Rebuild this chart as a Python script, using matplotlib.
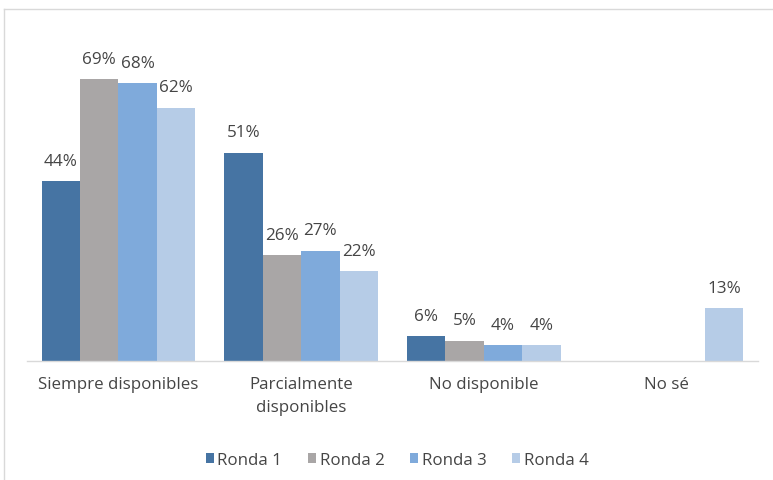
import numpy as np
import matplotlib
matplotlib.use("Agg")
import matplotlib.pyplot as plt
from matplotlib.lines import Line2D

plt.rcParams['font.family'] = ['Open Sans', 'DejaVu Sans']

categories = ["Siempre disponibles", "Parcialmente\ndisponibles", "No disponible", "No sé"]
series_names = ["Ronda 1", "Ronda 2", "Ronda 3", "Ronda 4"]
ronda1 = [44, 51, 6, np.nan]
ronda2 = [69, 26, 5, np.nan]
ronda3 = [68, 27, 4, np.nan]
ronda4 = [62, 22, 4, 13]
series = [ronda1, ronda2, ronda3, ronda4]
colors = ["#4674A3", "#A9A6A6", "#7FAADB", "#B6CCE7"]

W, H = 773, 481
fig = plt.figure(figsize=(W / 100, H / 100), dpi=100)
ax = fig.add_axes([27 / W, 119 / H, 731 / W, (362 - 35) / H])

x = np.arange(len(categories))
bw = 0.21
for i, (vals, name, c) in enumerate(zip(series, series_names, colors)):
    pos = x + (i - 1.5) * bw
    ax.bar(pos, vals, width=bw, color=c, label=name)
    for p, v in zip(pos, vals):
        if not np.isnan(v):
            ax.annotate(f"{v:.0f}%", (p, v), xytext=(0, 14.5), textcoords="offset points",
                        ha="center", va="center", fontsize=12.3, color="#454545")

ax.set_xlim(-0.5, len(categories) - 0.5)
ax.set_ylim(0, 80)
ax.set_yticks([])
ax.set_xticks(x)
ax.set_xticklabels(categories, fontsize=12.2, color="#454545", va="top", linespacing=1.6)
ax.tick_params(axis="x", length=0, pad=11)
for s in ["top", "right", "left"]:
    ax.spines[s].set_visible(False)
ax.spines["bottom"].set_color("#D9D9D9")
ax.spines["bottom"].set_linewidth(1)

handles, labels = ax.get_legend_handles_labels()
fig.legend(handles, labels, loc="center", bbox_to_anchor=(397 / W, 1 - 461 / H), ncol=4,
           frameon=False, fontsize=12.2, handlelength=0.5, handleheight=0.5,
           handletextpad=0.2, columnspacing=1.5, labelcolor="#454545")

# outer border (top and left visible)
fig.add_artist(Line2D([4 / W, 1], [1 - 10 / H, 1 - 10 / H], transform=fig.transFigure, color="#D9D9D9", lw=1))
fig.add_artist(Line2D([4 / W, 4 / W], [0, 1 - 10 / H], transform=fig.transFigure, color="#D9D9D9", lw=1))

fig.savefig("out.png", dpi=100, facecolor="white")
